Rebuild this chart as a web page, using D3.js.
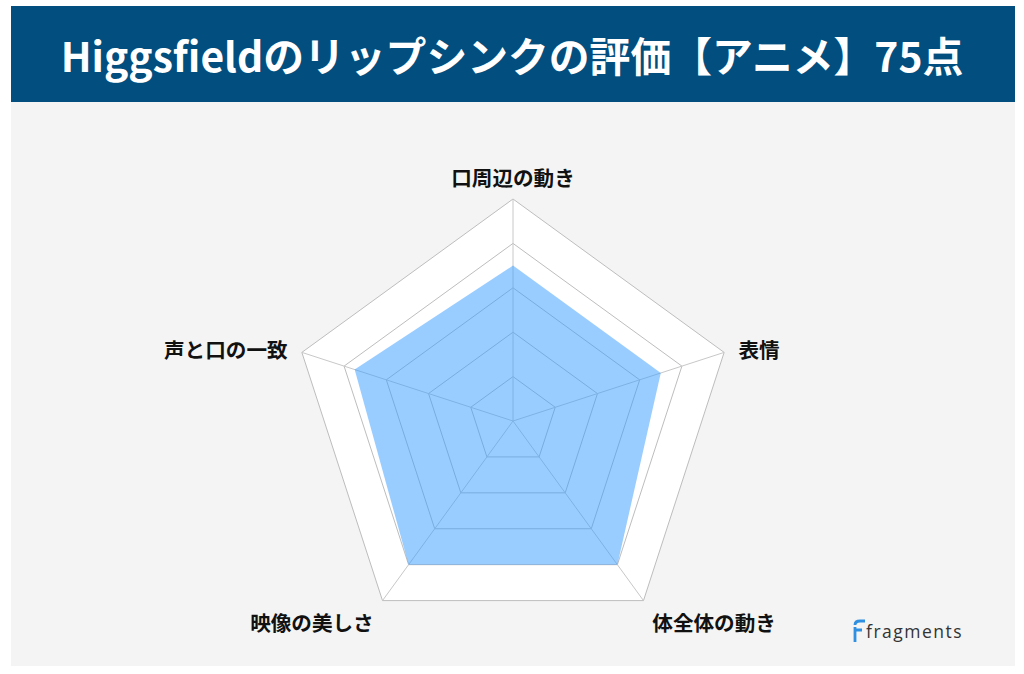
<!DOCTYPE html>
<html><head><meta charset="utf-8">
<script src="https://cdn.jsdelivr.net/npm/d3@7"></script>
<style>html,body{margin:0;padding:0;background:#fff}svg{display:block}</style>
</head><body>
<svg id="c" width="1024" height="674"></svg>
<script>
const title = "Higgsfieldのリップシンクの評価【アニメ】75点";
const categories = ["口周辺の動き", "表情", "体全体の動き", "映像の美しさ", "声と口の一致"];
const values = [70, 70, 80, 80, 75];
const gridLevels = [20, 40, 60, 80, 100];
const maxValue = 100;

const svg = d3.select("#c");
const font = "'Noto Sans CJK JP','Noto Sans',sans-serif";

svg.append("rect").attr("x",11).attr("y",102).attr("width",1004).attr("height",564).attr("fill","#f4f4f4");
svg.append("rect").attr("x",11).attr("y",6).attr("width",1004).attr("height",96).attr("fill","#024e7e");
svg.append("text").attr("x",512).attr("y",54).attr("text-anchor","middle").attr("dominant-baseline","central")
  .attr("fill","#fff").attr("font-family",font).attr("font-weight",700).attr("font-size",40.8).text(title);

const cx = 513, cy = 421, R = 222;
const r = d3.scaleLinear().domain([0, maxValue]).range([0, R]);
const angle = d3.scaleLinear().domain([0, categories.length]).range([0, 2*Math.PI]);
const pt = (i, v) => [cx + r(v)*Math.sin(angle(i)), cy - r(v)*Math.cos(angle(i))];
const line = d3.line().curve(d3.curveLinearClosed);
const idx = d3.range(categories.length);

// white background of chart
svg.append("path").attr("d", line(idx.map(i => pt(i, maxValue)))).attr("fill","#fff");
// grid
svg.selectAll(".grid").data(gridLevels).join("path")
  .attr("d", lv => line(idx.map(i => pt(i, lv))))
  .attr("fill","none").attr("stroke","#bdbdbd").attr("stroke-width",1);
svg.selectAll(".axis").data(idx).join("line")
  .attr("x1",cx).attr("y1",cy)
  .attr("x2", i => pt(i, maxValue)[0]).attr("y2", i => pt(i, maxValue)[1])
  .attr("stroke","#c8c8c8").attr("stroke-width",1);
// data
svg.append("path").attr("d", line(values.map((v,i) => pt(i, v))))
  .attr("fill","rgba(51,153,255,0.5)").attr("stroke","none");

// labels
const pad = 15;
categories.forEach((c, i) => {
  const a = angle(i);
  const x = cx + (R+pad)*Math.sin(a), y = cy - (R+pad)*Math.cos(a);
  const s = Math.sin(a), co = Math.cos(a);
  let anchor = Math.abs(s) < 0.05 ? "middle" : (s > 0 ? "start" : "end");
  let dy;
  if (co > 0.9) dy = -7;         // top
  else if (co > 0) dy = 1;       // sides
  else dy = 9;                   // bottom
  svg.append("text").attr("x", x).attr("y", y + dy)
    .attr("text-anchor", anchor).attr("dominant-baseline","central")
    .attr("font-family",font).attr("font-weight",700).attr("font-size",20.6).attr("fill","#111")
    .text(c);
});

// logo
const lg = svg.append("g");
lg.append("path").attr("d","M855,642 V627 M855,625 Q855,621 860,621 H865 M854,630 H862")
  .attr("fill","none").attr("stroke","#2f8fe0").attr("stroke-width",2.8).attr("stroke-linecap","butt");
lg.append("text").attr("x",866).attr("y",638).attr("font-family","'Open Sans','Noto Sans',sans-serif")
  .attr("font-size",17.5).attr("letter-spacing",1.5).attr("fill","#333").text("fragments");
</script>
</body></html>
